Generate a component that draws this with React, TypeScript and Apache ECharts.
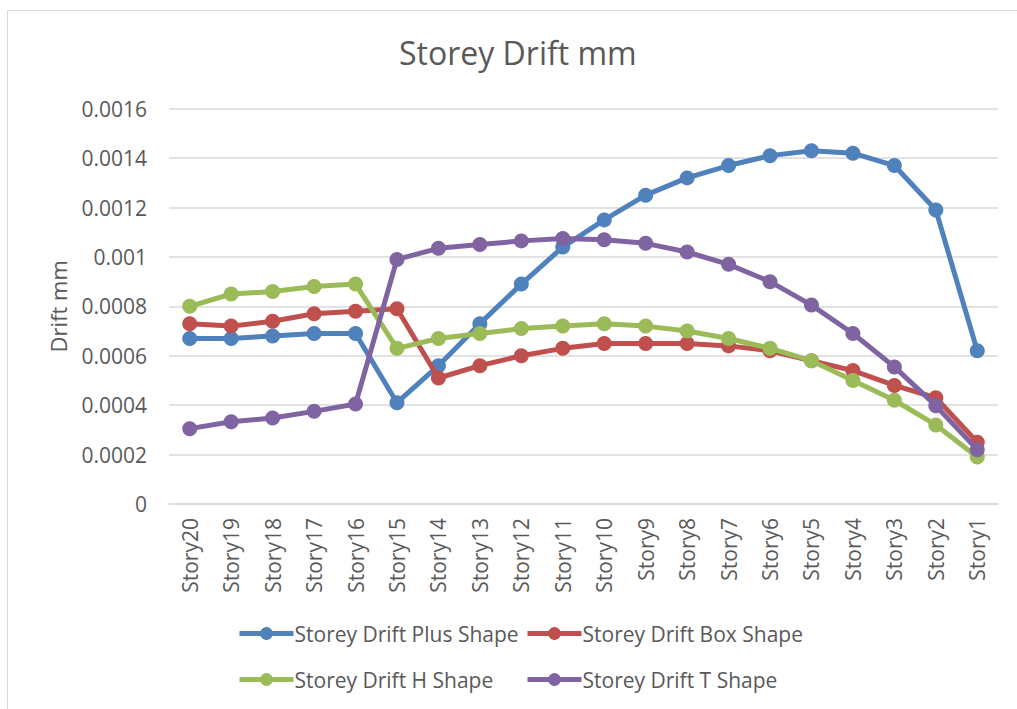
import React, { useEffect, useRef } from "react";
import * as echarts from "echarts";

const categories = ["Story20","Story19","Story18","Story17","Story16","Story15","Story14","Story13","Story12","Story11","Story10","Story9","Story8","Story7","Story6","Story5","Story4","Story3","Story2","Story1"];
const plusShape = [0.00067,0.00067,0.00068,0.00069,0.00069,0.00041,0.00056,0.00073,0.00089,0.00104,0.00115,0.00125,0.00132,0.00137,0.00141,0.00143,0.00142,0.00137,0.00119,0.00062];
const boxShape = [0.00073,0.00072,0.00074,0.00077,0.00078,0.00079,0.00051,0.00056,0.00060,0.00063,0.00065,0.00065,0.00065,0.00064,0.00062,0.00058,0.00054,0.00048,0.00043,0.00025];
const hShape = [0.00080,0.00085,0.00086,0.00088,0.00089,0.00063,0.00067,0.00069,0.00071,0.00072,0.00073,0.00072,0.00070,0.00067,0.00063,0.00058,0.00050,0.00042,0.00032,0.00019];
const tShape = [0.000305,0.000333,0.000348,0.000375,0.000405,0.00099,0.001035,0.00105,0.001065,0.001075,0.00107,0.001055,0.00102,0.00097,0.0009,0.000805,0.00069,0.000555,0.000398,0.00022];
const seriesNames = ["Storey Drift Plus Shape","Storey Drift Box Shape","Storey Drift H Shape","Storey Drift T Shape"];
const colors = ["#4F81BD","#C0504D","#9BBB59","#8064A2"];
const yTicks = ["0","0.0002","0.0004","0.0006","0.0008","0.001","0.0012","0.0014","0.0016"];

const FONT = "Open Sans";
const TEXT = "#595959";

export default function App() {
  const ref = useRef<HTMLDivElement>(null);
  useEffect(() => {
    document.body.style.margin = "0";
    const chart = echarts.init(ref.current!, null, { renderer: "svg" });
    const data = [plusShape, boxShape, hShape, tShape];
    const legendBase = {
      orient: "vertical",
      top: 623,
      padding: 0,
      itemGap: 25,
      itemWidth: 54,
      itemHeight: 16,
      lineStyle: { width: 5 },
      textStyle: { fontFamily: FONT, fontSize: 21, color: TEXT, padding: [0, 0, 0, -4] },
    };
    chart.setOption({
      animation: false,
      backgroundColor: "#ffffff",
      color: colors,
      title: {
        text: "Storey Drift mm",
        left: 394,
        top: 31,
        textStyle: { fontFamily: FONT, fontSize: 32, fontWeight: "normal", color: TEXT },
      },
      graphic: [
        {
          type: "rect",
          shape: { x: 7.5, y: 10.5, width: 1030, height: 720 },
          style: { fill: "none", stroke: "#D9D9D9", lineWidth: 1 },
        },
      ],
      legend: [
        { ...legendBase, data: [seriesNames[0], seriesNames[2]], left: 237 },
        { ...legendBase, data: [seriesNames[1], seriesNames[3]], left: 525 },
      ],
      grid: { left: 169, right: 19, top: 108.7, bottom: 205, containLabel: false },
      xAxis: {
        type: "category",
        data: categories,
        boundaryGap: true,
        axisLine: { show: true, lineStyle: { color: "#D9D9D9", width: 1.5 } },
        axisTick: { show: false },
        axisLabel: { rotate: 90, fontFamily: FONT, fontSize: 21, color: TEXT, margin: 14 },
      },
      yAxis: {
        type: "value",
        min: 0,
        max: 0.0016,
        interval: 0.0002,
        name: "Drift mm",
        nameLocation: "middle",
        nameGap: 100,
        nameTextStyle: { fontFamily: FONT, fontSize: 22, color: TEXT },
        axisLine: { show: false },
        axisTick: { show: false },
        splitLine: { lineStyle: { color: "#D9D9D9", width: 1.5 } },
        axisLabel: {
          fontFamily: FONT,
          fontSize: 21,
          color: TEXT,
          margin: 22,
          formatter: (v: number) => yTicks[Math.round(v / 0.0002)] ?? String(v),
        },
      },
      series: data.map((d, i) => ({
        name: seriesNames[i],
        type: "line",
        data: d,
        symbol: "circle",
        symbolSize: 15,
        lineStyle: { width: 5, color: colors[i] },
        itemStyle: { color: colors[i] },
        z: 2 + i,
      })),
    });
    return () => chart.dispose();
  }, []);
  return <div ref={ref} style={{ width: 1017, height: 709 }} />;
}
